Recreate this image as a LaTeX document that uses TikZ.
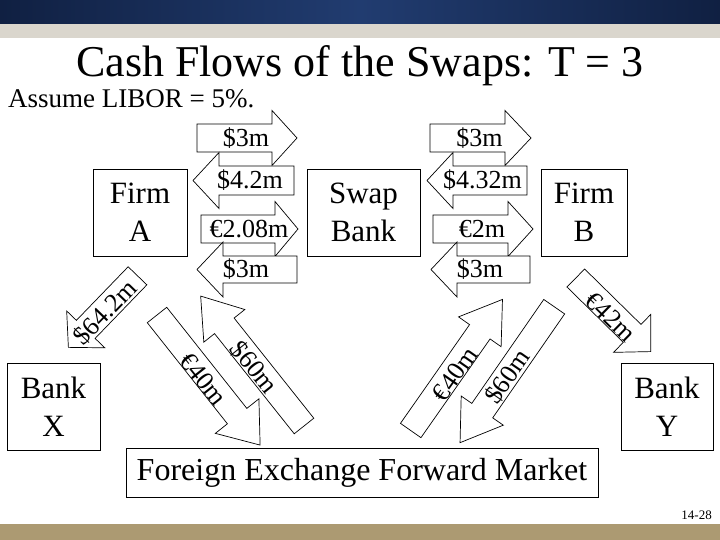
\documentclass[tikz,border=0pt]{standalone}
\usepackage{fontspec}
\setmainfont{Liberation Serif}
\definecolor{navymid}{RGB}{33,60,112}
\definecolor{navyedge}{RGB}{16,32,66}
\definecolor{beigeband}{RGB}{218,214,205}
\definecolor{tanband}{RGB}{172,154,114}
\newcommand{\BlkArrow}[6]{% #1 tail, #2 angle, #3 length, #4 half body, #5 half head, #6 head length
  \begin{scope}[shift={(#1)},rotate=#2]
    \filldraw[arrowshape] (0,-#4) -- ({#3-#6},-#4) -- ({#3-#6},-#5) -- (#3,0) -- ({#3-#6},#5) -- ({#3-#6},#4) -- (0,#4) -- cycle;
  \end{scope}}
\begin{document}
\begin{tikzpicture}[x=1pt,y=-1pt,
  box/.style={draw, line width=0.8pt, inner sep=0pt, align=center, font=\fontsize{31}{38}\selectfont},
  arrowshape/.style={draw=black, fill=white, line width=0.7pt, line join=miter},
  lbl/.style={inner sep=0pt, font=\fontsize{26}{30}\selectfont}]
\useasboundingbox (0,0) rectangle (720,540);
\fill[white] (0,0) rectangle (720,540);
% bands
\shade[left color=navyedge, right color=navyedge, middle color=navymid] (0,0) rectangle (720,24);
\fill[beigeband] (0,24) rectangle (720,38);
\fill[tanband] (0,524) rectangle (720,540);
% title
\node[anchor=base, inner sep=0pt, font=\fontsize{44}{50}\selectfont] (title) at (360,77) {Cash Flows of the Swaps: T = 3};
\node[anchor=base west, inner sep=0pt, font=\fontsize{27}{30}\selectfont] (assume) at (8,108) {Assume LIBOR = 5\%.};
% boxes
\node[box, minimum width=94, minimum height=87] (firmA) at (140,212.5) {Firm\\A};
\node[box, minimum width=113, minimum height=87] (swap) at (363.5,212.5) {Swap\\Bank};
\node[box, minimum width=86, minimum height=87] (firmB) at (584,212.5) {Firm\\B};
\node[box, minimum width=93, minimum height=87] (bankX) at (53.5,406.5) {Bank\\X};
\node[box, minimum width=92, minimum height=87] (bankY) at (667,406.5) {Bank\\Y};
\node[box, minimum width=472, minimum height=49, font=\fontsize{32}{38}\selectfont] (fx) at (362,472.5) {Foreign Exchange Forward Market};
% horizontal block arrows
\BlkArrow{197,138}{0}{100}{14}{27.5}{25}
\BlkArrow{294,180.5}{180}{101}{14.5}{28}{26}
\BlkArrow{201,229}{0}{97}{14}{27.5}{23}
\BlkArrow{297,269.5}{180}{100}{13.5}{27.5}{26}
\BlkArrow{430,138}{0}{101}{14}{27.5}{26}
\BlkArrow{527,180.5}{180}{100}{14.5}{28}{26}
\BlkArrow{433,229}{0}{100}{14}{27.5}{25}
\BlkArrow{530,269.5}{180}{99}{13.5}{27.5}{26}
\node[lbl] (a1) at (246,138) {\$3m};
\node[lbl] (a2) at (250,180.5) {\$4.2m};
\node[lbl] (a3) at (249,229) {€2.08m};
\node[lbl] (a4) at (246,269.5) {\$3m};
\node[lbl] (a5) at (479.5,138) {\$3m};
\node[lbl] (a6) at (482.5,180.5) {\$4.32m};
\node[lbl] (a7) at (482,229) {€2m};
\node[lbl] (a8) at (480,269.5) {\$3m};
% diagonal block arrows
\BlkArrow{137.5,275.8}{-134}{99.5}{13}{26.5}{25}
\BlkArrow{575.8,278}{-44.5}{105}{12.6}{26.6}{26}
\BlkArrow{157,315}{-51.6}{166}{12.4}{27.8}{37}
\BlkArrow{304,426}{128.5}{166}{12.5}{26.2}{38}
\BlkArrow{410.7,430.5}{55}{160}{12.5}{26}{39.5}
\BlkArrow{554.2,306.7}{-124.7}{165.4}{12.7}{25.6}{39}
\node[lbl, rotate=46] (d1) at (105,312.3) {\$64.2m};
\node[lbl, rotate=-44.5] (d2) at (610.7,317.3) {€42m};
\node[lbl, rotate=-51.6] (d3) at (203.3,379) {€40m};
\node[lbl, rotate=-51.5] (d4) at (254,367.3) {\$60m};
\node[lbl, rotate=55] (d5) at (455,374) {€40m};
\node[lbl, rotate=55.3] (d6) at (507.3,376.7) {\$60m};
% page number
\node[anchor=base east, inner sep=0pt, font=\fontsize{13}{14}\selectfont] (pg) at (712,519) {14-28};
\end{tikzpicture}
\end{document}
